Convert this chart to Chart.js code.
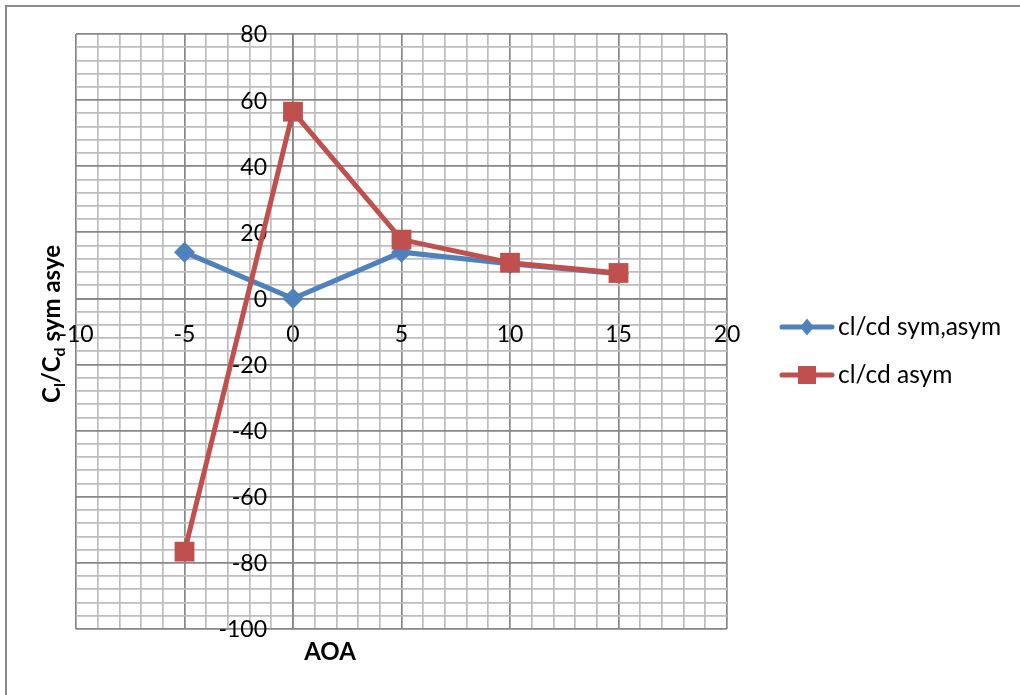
<!DOCTYPE html>
<html>
<head>
<meta charset="utf-8">
<script src="https://cdn.jsdelivr.net/npm/chart.js@4/dist/chart.umd.min.js"></script>
<style>
  html, body { margin: 0; padding: 0; background: #ffffff; }
  #wrap { width: 1020px; height: 695px; position: relative; }
</style>
</head>
<body>
<div id="wrap"><canvas id="c" width="1020" height="695"></canvas></div>
<script>
// Angle of attack (degrees)
const aoa = [-5, 0, 5, 10, 15];
// Lift-to-drag ratio per series
const clcdSymAsym = [14, 0, 14, 10.5, 7.5];
const clcdAsym = [-76.6, 56.5, 17.8, 10.8, 7.7];
const seriesNames = ['cl/cd sym,asym', 'cl/cd asym'];
// Axis ranges and label steps
const xRange = [-10, 20];
const yRange = [-100, 80];
const xLabelStep = 5, xGridStep = 1;
const yLabelStep = 20, yGridStep = 4;

const FONT = 'Lato, "Open Sans", "Liberation Sans", sans-serif';
const BLUE = '#4F81BD';
const RED = '#C0504D';
const MAJOR = '#878787';
const MINOR = '#BDBDBD';
const TICK_SIZE = 23;

function toPoints(ys) { return aoa.map((x, i) => ({ x: x, y: ys[i] })); }

// Outer frame of the chart object
const framePlugin = {
  id: 'frame',
  beforeDraw(chart) {
    const ctx = chart.ctx;
    ctx.save();
    ctx.strokeStyle = '#8A8A8A';
    ctx.lineWidth = 2;
    ctx.beginPath();
    ctx.moveTo(6, 700);
    ctx.lineTo(6, 6);
    ctx.lineTo(1030, 6);
    ctx.stroke();
    ctx.restore();
  }
};

// y tick labels sit to the left of the vertical axis that crosses at x = 0
const yLabelPlugin = {
  id: 'yLabels',
  beforeDatasetsDraw(chart) {
    const ctx = chart.ctx;
    const xs = chart.scales.x, ys = chart.scales.y;
    const x0 = xs.getPixelForValue(0);
    ctx.save();
    ctx.fillStyle = '#000';
    ctx.font = TICK_SIZE + 'px ' + FONT;
    ctx.textAlign = 'right';
    ctx.textBaseline = 'middle';
    for (let v = yRange[0]; v <= yRange[1]; v += yLabelStep) {
      ctx.fillText(String(v), x0 - 26, ys.getPixelForValue(v) + 1);
    }
    ctx.restore();
  }
};

function drawMarker(ctx, style, x, y, size, color) {
  ctx.fillStyle = color;
  ctx.beginPath();
  if (style === 'rectRot') {
    ctx.moveTo(x, y - size);
    ctx.lineTo(x + size * 0.8, y);
    ctx.lineTo(x, y + size);
    ctx.lineTo(x - size * 0.8, y);
    ctx.closePath();
  } else {
    ctx.rect(x - size, y - size, size * 2, size * 2);
  }
  ctx.fill();
}

// Axis titles (with subscripts) and the series legend
const annotatePlugin = {
  id: 'annotate',
  afterDraw(chart) {
    const ctx = chart.ctx;
    ctx.save();

    // x-axis title
    ctx.fillStyle = '#000';
    ctx.font = 'bold 24px ' + FONT;
    ctx.textAlign = 'center';
    ctx.textBaseline = 'middle';
    ctx.fillText('AOA', 330, 652);

    // y-axis title: C_l/C_d sym asye
    const parts = [
      { t: 'C', sub: false },
      { t: 'l', sub: true },
      { t: '/C', sub: false },
      { t: 'd', sub: true },
      { t: ' sym asye', sub: false }
    ];
    const mainFont = 'bold 24px ' + FONT;
    const subFont = 'bold 16px ' + FONT;
    let total = 0;
    parts.forEach(p => { ctx.font = p.sub ? subFont : mainFont; p.w = ctx.measureText(p.t).width; total += p.w; });
    ctx.translate(56, 324);
    ctx.rotate(-Math.PI / 2);
    ctx.textAlign = 'left';
    ctx.textBaseline = 'alphabetic';
    let cx = -total / 2;
    parts.forEach(p => {
      ctx.font = p.sub ? subFont : mainFont;
      ctx.fillText(p.t, cx, p.sub ? 9 : 4);
      cx += p.w;
    });
    ctx.setTransform(1, 0, 0, 1, 0, 0);

    // legend
    const items = chart.data.datasets;
    const rowY = [327, 375];
    items.forEach((ds, i) => {
      const y = rowY[i];
      ctx.strokeStyle = ds.borderColor;
      ctx.lineWidth = 5;
      ctx.lineCap = 'round';
      ctx.beginPath();
      ctx.moveTo(782, y);
      ctx.lineTo(832, y);
      ctx.stroke();
      drawMarker(ctx, ds.pointStyle, 807, y, ds.pointStyle === 'rectRot' ? 8.5 : 9, ds.pointBackgroundColor);
      ctx.fillStyle = '#000';
      ctx.font = '24.5px ' + FONT;
      ctx.textAlign = 'left';
      ctx.textBaseline = 'middle';
      ctx.fillText(ds.label, 838, y);
    });
    ctx.restore();
  }
};

const tickFont = { family: FONT, size: TICK_SIZE };

new Chart(document.getElementById('c'), {
  type: 'line',
  data: {
    datasets: [
      {
        label: seriesNames[0],
        data: toPoints(clcdSymAsym),
        borderColor: BLUE,
        backgroundColor: BLUE,
        pointBackgroundColor: BLUE,
        pointBorderColor: BLUE,
        borderWidth: 5,
        pointStyle: 'rectRot',
        pointRadius: 10.5,
        pointBorderWidth: 0,
        tension: 0,
        order: 1
      },
      {
        label: seriesNames[1],
        data: toPoints(clcdAsym),
        borderColor: RED,
        backgroundColor: RED,
        pointBackgroundColor: RED,
        pointBorderColor: RED,
        borderWidth: 5,
        pointStyle: 'rect',
        pointRadius: 14,
        pointBorderWidth: 0,
        tension: 0,
        order: 0
      }
    ]
  },
  options: {
    responsive: false,
    animation: false,
    devicePixelRatio: 1,
    layout: { padding: { left: 76, top: 34, right: 293, bottom: 66 } },
    plugins: { legend: { display: false }, tooltip: { enabled: false } },
    scales: {
      x: {
        type: 'linear',
        min: xRange[0],
        max: xRange[1],
        position: { y: 0 },
        ticks: {
          stepSize: xGridStep,
          autoSkip: false,
          maxRotation: 0,
          padding: 22,
          color: '#000',
          font: tickFont,
          callback: v => (v % xLabelStep === 0 ? String(v) : '')
        },
        grid: {
          drawTicks: false,
          color: c => (c.tick && c.tick.value % xLabelStep === 0 ? MAJOR : MINOR),
          lineWidth: 1.7
        },
        border: { display: true, color: MAJOR, width: 1.7 }
      },
      y: {
        type: 'linear',
        min: yRange[0],
        max: yRange[1],
        position: { x: 0 },
        ticks: {
          stepSize: yGridStep,
          autoSkip: false,
          display: false
        },
        grid: {
          drawTicks: false,
          color: c => (c.tick && c.tick.value % yLabelStep === 0 ? MAJOR : MINOR),
          lineWidth: 1.7
        },
        border: { display: true, color: MAJOR, width: 1.7 }
      }
    }
  },
  plugins: [framePlugin, yLabelPlugin, annotatePlugin]
});
</script>
</body>
</html>
